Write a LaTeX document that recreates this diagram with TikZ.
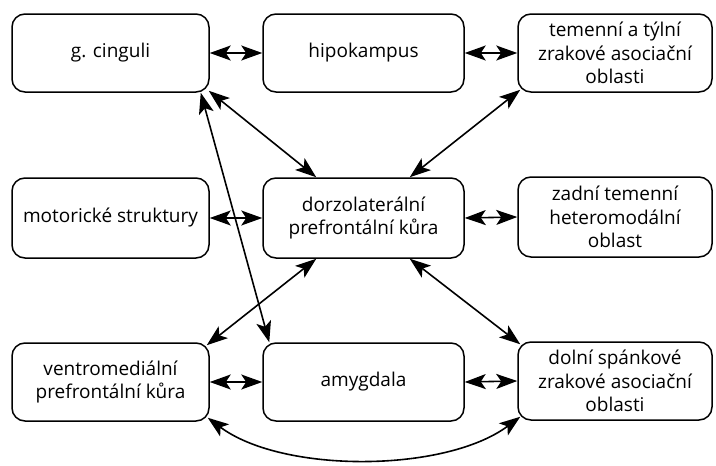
\documentclass[tikz,border=0pt]{standalone}
\usepackage{fontspec}
\setmainfont{Open Sans}
\usetikzlibrary{arrows.meta,calc}
\begin{document}
\begin{tikzpicture}[x=1pt,y=-1pt,
  area/.style={draw,line width=1.5pt,rounded corners=13pt,align=center,
    inner sep=0pt,font=\fontsize{19}{23.5}\selectfont},
  link/.style={line width=1.6pt,
    {Stealth[length=21pt,width=15pt,inset=5pt]}-{Stealth[length=21pt,width=15pt,inset=5pt]}}]
\useasboundingbox (0,0) rectangle (716,466);
% top row
\node[area,minimum width=197pt,minimum height=78pt] (gc) at (110.5,53) {g. cinguli};
\node[area,minimum width=201pt,minimum height=78pt] (hk) at (363.5,53) {hipokampus};
\node[area,minimum width=194pt,minimum height=78pt] (tt) at (615,53) {temenní a týlní\\zrakové asociační\\oblasti};
% middle row
\node[area,minimum width=197pt,minimum height=80pt] (ms) at (110.5,218) {motorické struktury};
\node[area,minimum width=201pt,minimum height=80pt] (dl) at (363.5,218) {dorzolaterální\\prefrontální kůra};
\node[area,minimum width=194pt,minimum height=80pt] (zt) at (615,217) {zadní temenní\\heteromodální\\oblast};
% bottom row
\node[area,minimum width=197pt,minimum height=78pt] (vm) at (110.5,382) {ventromediální\\prefrontální kůra};
\node[area,minimum width=201pt,minimum height=78pt] (am) at (363.5,382) {amygdala};
\node[area,minimum width=194pt,minimum height=78pt] (ds) at (615,381) {dolní spánkové\\zrakové asociační\\oblasti};
% horizontal links
\draw[link] (gc.east) -- (hk.west);
\draw[link] (hk.east) -- (tt.west);
\draw[link] (ms.east) -- (dl.west);
\draw[link] (dl.east) -- (zt.west);
\draw[link] (vm.east) -- (am.west);
\draw[link] (am.east) -- (ds.west);
% diagonal links
\draw[link] ($(gc.south east)+(-1,-2)$) -- ($(dl.north west)+(54,0)$);
\draw[link] ($(gc.south east)+(-9,0)$) -- ($(am.north west)+(7,0)$);
\draw[link] ($(tt.south west)+(3,-3)$) -- ($(dl.north east)+(-55,0)$);
\draw[link] ($(dl.south west)+(54,0)$) -- ($(vm.north east)+(-3,3)$);
\draw[link] ($(dl.south east)+(-55,0)$) -- ($(ds.north west)+(3,3)$);
% lower arc
\draw[link] ($(vm.south east)+(-2,-4)$) .. controls +(75,56) and +(-75,56) .. ($(ds.south west)+(3,-4)$);
\end{tikzpicture}
\end{document}
